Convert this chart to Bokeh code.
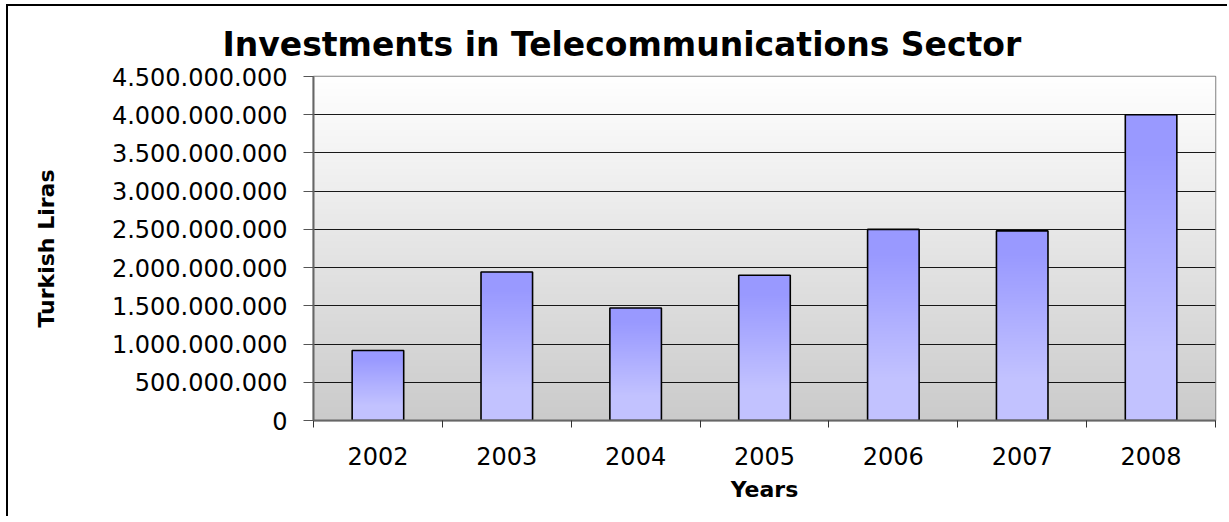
import numpy as np
from bokeh.plotting import figure
from bokeh.models import Range1d, FixedTicker, Title
from bokeh.embed import file_html
from bokeh.resources import INLINE

# ---- data ----
years = ["2002", "2003", "2004", "2005", "2006", "2007", "2008"]
investments = [915_000_000, 1_943_000_000, 1_472_000_000, 1_900_000_000,
               2_500_000_000, 2_480_000_000, 4_000_000_000]
y_ticks = [0, 500_000_000, 1_000_000_000, 1_500_000_000, 2_000_000_000,
           2_500_000_000, 3_000_000_000, 3_500_000_000, 4_000_000_000, 4_500_000_000]
y_tick_labels = ["0", "500.000.000", "1.000.000.000", "1.500.000.000", "2.000.000.000",
                 "2.500.000.000", "3.000.000.000", "3.500.000.000", "4.000.000.000",
                 "4.500.000.000"]
title_text = "Investments in Telecommunications Sector"
x_title = "Years"
y_title = "Turkish Liras"

n = len(years)
centers = [i + 0.5 for i in range(n)]
boundaries = list(range(n + 1))
y_max = y_ticks[-1]
bar_w = 0.4

FONT = "DejaVu Sans"

p = figure(width=1221, height=512, x_range=Range1d(0, n), y_range=Range1d(0, y_max),
           output_backend="svg", toolbar_location=None,
           min_border_left=305, min_border_right=14, min_border_top=70, min_border_bottom=98)
p.styles = {"border-left": "2px solid black", "border-top": "2px solid black",
            "margin-left": "6px", "margin-top": "4px"}
p.background_fill_color = "white"
p.border_fill_color = "white"
p.outline_line_color = "#808080"
p.outline_line_width = 1.5

p.title = Title(text=title_text, align="left", offset=-91, standoff=25,
                text_font=FONT, text_font_size="33px", text_font_style="bold",
                text_color="black")

# ---- background gradient (white top -> gray bottom) ----
N = 256
r = np.arange(N) / (N - 1)  # 0 bottom, 1 top
bg = np.empty((N, 1), dtype=np.uint32)
v = bg.view(dtype=np.uint8).reshape((N, 1, 4))
g = (0xcb + (0xff - 0xcb) * r).astype(np.uint8)
v[:, 0, 0] = g
v[:, 0, 1] = g
v[:, 0, 2] = g
v[:, 0, 3] = 255
p.image_rgba(image=[bg], x=0, y=0, dw=n, dh=y_max, level="image")

# ---- bar gradient (darker top -> lighter bottom) ----
bar = np.empty((N, 1), dtype=np.uint32)
bv = bar.view(dtype=np.uint8).reshape((N, 1, 4))
d = 1 - r  # distance from top
f = np.clip((d - 0.12) / 0.65, 0, 1)
top_c = np.array([0x99, 0x99, 0xff])
bot_c = np.array([0xc2, 0xc2, 0xff])
cols = top_c[None, :] + (bot_c - top_c)[None, :] * f[:, None]
bv[:, 0, 0] = cols[:, 0].astype(np.uint8)
bv[:, 0, 1] = cols[:, 1].astype(np.uint8)
bv[:, 0, 2] = cols[:, 2].astype(np.uint8)
bv[:, 0, 3] = 255

p.image_rgba(image=[bar] * n, x=[c - bar_w / 2 for c in centers], y=[0] * n,
             dw=[bar_w] * n, dh=investments)
p.vbar(x=centers, top=investments, width=bar_w, bottom=0,
       fill_alpha=0, line_color="black", line_width=1.6)

# ---- grid ----
p.xgrid.visible = False
p.ygrid.grid_line_color = "black"
p.ygrid.grid_line_width = 1
p.ygrid.grid_line_alpha = 0.9

# ---- y axis ----
ya = p.yaxis[0]
ya.ticker = FixedTicker(ticks=y_ticks)
ya.major_label_overrides = {t: lab for t, lab in zip(y_ticks, y_tick_labels)}
ya.major_tick_out = 10
ya.major_tick_in = 0
ya.minor_tick_line_color = None
ya.major_tick_line_color = "#555555"
ya.axis_line_color = "#666666"
ya.axis_line_width = 2
ya.major_label_standoff = 16
ya.major_label_text_font = FONT
ya.major_label_text_font_size = "24px"
ya.major_label_text_color = "black"
ya.axis_label = y_title
ya.axis_label_text_font = FONT
ya.axis_label_text_font_size = "22px"
ya.axis_label_text_font_style = "bold"
ya.axis_label_text_color = "black"
ya.axis_label_standoff = 50

# ---- x axis ----
xa = p.xaxis[0]
xa.ticker = FixedTicker(ticks=centers, minor_ticks=boundaries)
xa.major_label_overrides = {c: y for c, y in zip(centers, years)}
xa.major_tick_out = 0
xa.major_tick_in = 0
xa.minor_tick_out = 7
xa.minor_tick_in = 0
xa.minor_tick_line_color = "#333333"
xa.axis_line_color = "#666666"
xa.axis_line_width = 2
xa.major_label_standoff = 19
xa.major_label_text_font = FONT
xa.major_label_text_font_size = "24px"
xa.major_label_text_color = "black"
xa.axis_label = x_title
xa.axis_label_text_font = FONT
xa.axis_label_text_font_size = "22px"
xa.axis_label_text_font_style = "bold"
xa.axis_label_text_color = "black"
xa.axis_label_standoff = 9

open("out.html", "w").write(file_html(p, INLINE))
